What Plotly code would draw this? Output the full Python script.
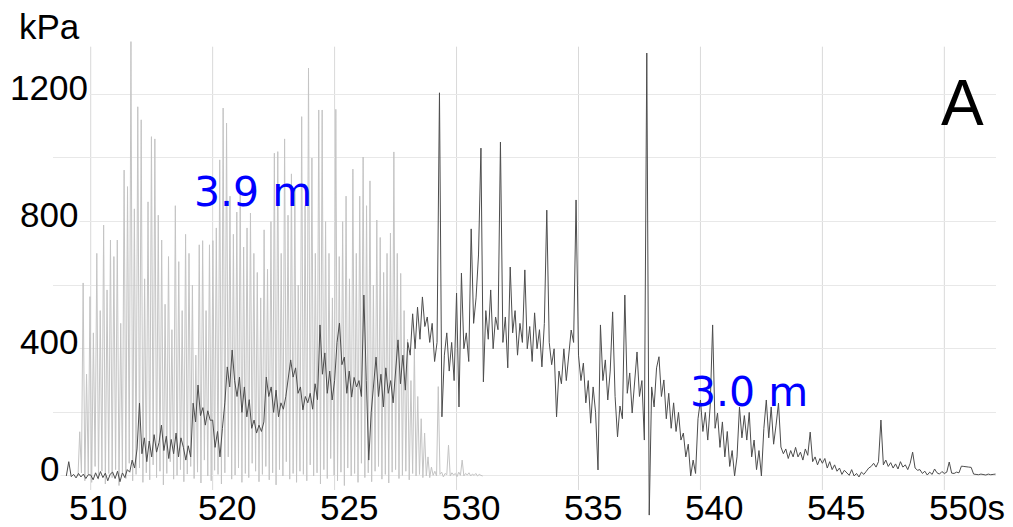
import plotly.graph_objects as go

# ---- axis ticks -------------------------------------------------------
x_ticks = [515, 520, 525, 530, 535, 540, 545, 550]
x_tick_labels = ["510", "520", "525", "530", "535", "540", "545", "550s"]
y_grid_step = 200
y_ticks = [0, 400, 800, 1200]
y_tick_labels = ["0", "400", "800", "1200"]

# ---- 3.0 m gauge (dark trace), sampled every 0.1 s from 514.0 s -------
dark_start = 514.0
dark_step = 0.1
dark_kpa = [
    0, 45, -2, 5, -6, 8, -3, 6, -8, 4,                       # 514
    3, -12, 10, -8, 14, -5, 9, -15, 6, 12,                   # 515
    -8, 15, -18, 10, -5, 20, 12, 50, 25, 85,                 # 516
    229, 70, 120, 45, 110, 60, 130, 75, 105, 160,            # 517
    80, 125, 55, 115, 70, 135, 60, 120, 90, 50,              # 518
    95, 60, 229, 170, 286, 190, 215, 160, 205, 175,          # 519
    176, 90, 140, 60, 150, 230, 343, 280, 396, 300,          # 520
    250, 311, 200, 280, 186, 240, 150, 176, 135, 160,        # 521
    140, 170, 311, 250, 280, 200, 270, 186, 230, 210,        # 522
    250, 300, 365, 311, 340, 260, 280, 208, 250, 230,        # 523
    260, 210, 290, 240, 475, 320, 387, 260, 330, 239,        # 524
    300, 420, 481, 350, 374, 260, 330, 248, 310, 280,        # 525
    300, 250, 569, 300, 50, 200, 280, 374, 250, 320,         # 526
    217, 340, 260, 300, 230, 330, 428, 290, 380, 270,        # 527
    420, 380, 510, 400, 531, 430, 563, 470, 500, 420,        # 528
    480, 360, 420, 1205, 186, 380, 450, 330, 420, 300,       # 529
    575, 217, 638, 400, 450, 360, 777, 480, 560, 695,        # 530
    1031, 296, 520, 430, 585, 400, 500, 460, 1050, 420,      # 531
    500, 340, 657, 450, 520, 380, 480, 420, 648, 400,        # 532
    470, 360, 513, 400, 460, 343, 480, 836, 420, 350,        # 533
    400, 186, 330, 290, 400, 300, 380, 459, 420, 868,        # 534
    380, 300, 355, 230, 300, 166, 280, 200, 19, 475,         # 535
    300, 365, 239, 330, 516, 250, 123, 220, 180, 569,        # 536
    260, 324, 198, 300, 390, 250, 300, 113, 1330, -123,      # 537
    280, 217, 340, 375, 250, 302, 180, 260, 150, 230,        # 538
    140, 200, 113, 135, 60, 100, 0, 50, 8, 180,              # 539
    239, 140, 200, 113, 220, 475, 150, 198, 90, 170,         # 540
    60, 140, 30, 80, 0, 60, 217, 120, 190, 113,              # 541
    200, 60, 113, 20, 80, 0, 150, 239, 120, 217,             # 542
    100, 160, 229, 91, 70, 85, 55, 80, 60, 90,               # 543
    60, 75, 50, 85, 65, 138, 45, 60, 35, 55,                 # 544
    40, 55, 25, 45, 20, 35, 15, 25, 5, 18,                   # 545
    10, 2, 20, 0, 8, -3, 12, 5, 15, 25,                      # 546
    30, 40, 28, 45, 176, 35, 50, 30, 42, 25,                 # 547
    38, 22, 45, 28, 35, 20, 40, 75, 25, 18,                  # 548
    20, 8, 15, 3, 12, 5, 22, 10, 6, 14,                      # 549
    8, 12, 44, 9, 8, 12, 10, 31, 30, 28,                     # 550
    28, 27, 6, 5, 4, 6, 5, 3, 6, 4,                          # 551
    5, 6,                                                    # 552
]

# ---- 3.9 m gauge (light trace): alternating trough / peak every 0.07 s --
light_start = 514.48
light_step = 0.07
light_peaks = [
    139, 607, 320, 564, 450, 700, 520, 789, 585, 742, 690, 742, 480, 962,
    910, 1366, 840, 1161, 1120, 620, 862, 1067, 1060, 820, 742, 540, 690,
    460, 850, 674, 520, 760, 700, 600, 380, 727, 740, 520, 727, 740, 780,
    994, 1157, 1110, 880, 760, 830, 890, 720, 780, 827, 700, 640, 560, 774,
    650, 800, 1015, 1020, 700, 1060, 820, 950, 900, 600, 1130, 850, 1283,
    1000, 700, 1151, 1151, 800, 700, 560, 1153, 690, 800, 880, 620, 965,
    700, 880, 1003, 850, 928, 600, 805, 750, 640, 700, 764, 1019, 700, 637,
    520, 430, 300, 400, 250, 180, 135,
]
light_troughs = [
    0, 10, -15, 5, -20, 30, -10, 15, -25, 8, -5, 20, -30, 12, -8, 40, -15,
    5, 25, -20, 10, -12, 35, -5, 15, -28, 8, 45, -10, 2, 20, -18, 6, 30, -8,
    12, -22, 50, 0, -15, 18, 5, -25, 10, 60, -10, 3, 25, -20, 8, -5, 40, 15,
    -18, 5, 30, -12, 10, -28, 20, 0, 45, -10, 8, -20, 15, 5, -15, 35, 0, 10,
    -25, 20, -8, 55, 2, -15, 12, -30, 25, 0, 8, -20, 40, -5, 10, -18, 15, 30,
    -10, 5, -22, 12, 20, -8, 2, 15, -12, 8, 0, 5, -5,
]
light_tail = [
    0, 60, -5, 28, 2, 15, 0, 281, 5, 12, -3, 8, 4, 97, 0, 10, 3, 8, -2, 12,
    2, 50, 0, 8, 3, 10, 0, 6, 2, 8, 0, 5, 2, 0,
]

# ---- build series ------------------------------------------------------
dark_t = [dark_start + dark_step * i for i in range(len(dark_kpa))]

light_kpa = []
for lo, hi in zip(light_troughs, light_peaks):
    light_kpa.extend([lo, hi])
light_kpa.extend(light_tail)
light_t = [light_start + light_step * i for i in range(len(light_kpa))]

fig = go.Figure()
fig.add_trace(go.Scatter(x=light_t, y=light_kpa, mode="lines",
                         line=dict(color="#c4c4c4", width=1),
                         name="3.9 m", showlegend=False, hoverinfo="skip"))
fig.add_trace(go.Scatter(x=dark_t, y=dark_kpa, mode="lines",
                         line=dict(color="#4d4d4d", width=1),
                         name="3.0 m", showlegend=False, hoverinfo="skip"))

TICK_FONT = dict(family="Liberation Sans, Arial, sans-serif", size=35, color="black")
BLUE_FONT = dict(family="DejaVu Sans, sans-serif", size=41, color="#0000ff")

shapes = []
for xv in x_ticks:
    shapes.append(dict(type="line", xref="x", yref="y", x0=xv, x1=xv,
                       y0=-44, y1=1350, layer="below",
                       line=dict(color="#d9d9d9", width=1)))

annotations = []
for i, (xv, lab) in enumerate(zip(x_ticks, x_tick_labels)):
    annotations.append(dict(x=xv, xref="x", y=-0.0145, yref="paper", text=lab,
                            showarrow=False, xanchor="left", yanchor="bottom",
                            borderpad=0, yshift=-1,
                            xshift=-23 if i == 0 else -16, font=TICK_FONT))
for yv, lab in zip(y_ticks, y_tick_labels):
    annotations.append(dict(x=-0.0042, xref="paper", y=yv, yref="y", text=lab,
                            showarrow=False, xanchor="center", yanchor="middle",
                            yshift=7, font=TICK_FONT, bgcolor="white"))
annotations.append(dict(x=-0.0032, xref="paper", y=1.0186, yref="paper",
                        text="kPa", showarrow=False, xanchor="center",
                        yanchor="middle", font=TICK_FONT))
annotations.append(dict(x=0.9645, xref="paper", y=0.8626, yref="paper",
                        text="A", showarrow=False, xanchor="center",
                        yanchor="middle",
                        font=dict(family="Liberation Sans, Arial, sans-serif",
                                  size=64, color="black")))
annotations.append(dict(x=521.67, xref="x", y=893, yref="y", text="3.9 m",
                        showarrow=False, xanchor="center", yanchor="middle",
                        font=BLUE_FONT))
annotations.append(dict(x=541.99, xref="x", y=262.6, yref="y", text="3.0 m",
                        showarrow=False, xanchor="center", yanchor="middle",
                        font=BLUE_FONT))

fig.update_layout(
    width=1013, height=527,
    margin=dict(l=53, r=17, t=36, b=7),
    paper_bgcolor="white", plot_bgcolor="white",
    showlegend=False,
    xaxis=dict(range=[513.454, 552.118], showgrid=False, zeroline=False,
               showticklabels=False, ticks="", showline=False),
    yaxis=dict(range=[-138.4, 1383.6], tick0=0, dtick=y_grid_step,
               showgrid=True, gridcolor="#e8e8e8", gridwidth=1,
               zeroline=False, showticklabels=False, ticks="", showline=False),
    shapes=shapes,
    annotations=annotations,
)

fig.write_html("out.html")
